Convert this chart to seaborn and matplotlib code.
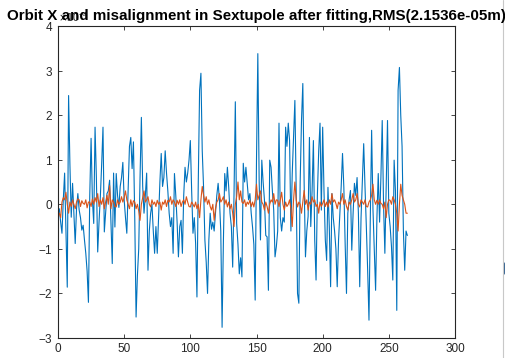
import matplotlib
matplotlib.use("Agg")
import matplotlib.pyplot as plt
import matplotlib.ticker as mticker
from matplotlib.lines import Line2D
import numpy as np
import pandas as pd
import seaborn as sns

# Orbit X (units of 1e-4 m), index 1..264
orbit_x = [
    -0.1, -0.4, -0.65, 0.1, 0.7, -0.6, -1.86, 2.44, 0.9, -0.29,
    0.47, -0.2, -0.88, -0.1, 0.24, -0.13, -0.3, -0.58, -0.47, -0.8,
    -1.1, -1.5, -2.2, 0.2, 1.48, 0.1, -0.43, 1.73, 0.6, -1.07,
    -0.4, 0.17, 0.9, 1.73, -0.62, -0.2, 0.24, 0.3, 0.54, -0.4,
    -1.33, 0.7, -0.51, 0.69, 0.2, -0.07, 0.4, 0.6, 0.94, 0.1,
    -0.3, -0.65, 0.3, 1.3, 1.5, 0.8, 1.4, -0.3, -2.53, -1.6,
    -1.0, 0.6, 1.95, 0.4, -0.2, 0.2, 0.7, -1.48, -0.6, -0.2,
    0.0, -0.6, -1.1, -0.5, -1.1, -0.3, 0.5, 1.14, 0.4, 0.6,
    1.2, 0.7, 0.3, -0.2, -0.5, -0.3, -1.1, 0.69, 0.2, -0.4,
    -1.18, -0.5, -0.36, -1.1, 0.2, 0.83, 0.5, 0.7, 0.99, 1.43,
    0.3, -0.65, -0.3, -0.88, -2.08, 0.5, 2.56, 2.94, 1.2, 0.38,
    -0.8, -1.3, -2.0, -0.8, -0.2, -0.56, -0.4, -0.6, -0.2, 0.2,
    0.47, 0.1, -0.6, -2.76, -0.8, 0.69, 0.3, 0.83, 0.38, -0.2,
    -0.5, -1.41, 0.2, 2.3, -0.43, -0.9, -1.56, -1.2, -1.63, 0.92,
    0.5, 0.83, 0.47, 0.1, 0.24, -0.2, -0.51, -0.9, -2.15, 1.0,
    3.38, 0.54, -0.8, 0.99, 0.5, 0.1, -0.7, -0.73, -1.93, 0.99,
    0.83, 0.3, -0.13, -1.18, -0.95, -0.6, 1.82, -0.3, -0.6, -0.3,
    -0.4, 1.73, 1.3, 1.82, 1.43, -0.6, 0.69, 1.5, 2.33, 0.3,
    -2.0, -2.22, 0.5, 1.88, 2.71, 0.47, -1.18, -0.6, -0.27, 1.5,
    -0.5, 0.3, 1.43, -0.8, -1.7, 0.2, 1.2, 1.82, -0.13, 1.73,
    0.3, -0.8, -1.26, 0.38, -0.5, -1.85, 0.24, -0.3, -0.6, -1.0,
    -1.85, -0.8, -0.2, 0.4, 1.14, 0.38, -0.9, -2.0, -0.2, 0.1,
    0.31, -1.03, -0.2, 0.47, 0.2, 0.6, -0.2, -1.85, -0.3, 0.5,
    1.36, 0.38, -0.5, -1.48, -2.6, -0.3, 1.66, -0.1, -1.0, -1.93,
    -0.3, 0.69, -0.4, 0.6, 1.88, 0.0, -1.1, 0.4, 1.88, -0.2,
    -0.5, -0.95, -1.7, 0.99, 0.3, -2.38, 2.56, 3.07, 2.0, 1.3,
    -0.6, -1.48, -0.6, -0.7,
]

# Misalignment in sextupoles (units of 1e-4 m)
misalign = [
    -0.2, -0.3, 0.05, 0.15, 0.1, 0.27, 0.0, -0.2, 0.05, -0.05,
    0.1, 0.0, -0.1, 0.05, 0.12, 0.1, -0.05, 0.08, 0.02, 0.0,
    0.1, -0.08, 0.05, 0.05, -0.05, 0.12, 0.0, 0.15, 0.05, 0.24,
    -0.05, 0.1, 0.0, 0.15, -0.1, 0.05, 0.2, 0.0, 0.42, -0.1,
    0.1, 0.05, -0.05, -0.06, 0.1, 0.0, 0.05, 0.17, 0.05, 0.15,
    0.3, 0.1, 0.0, -0.1, 0.1, -0.05, 0.08, 0.05, -0.1, 0.0,
    -0.15, -0.36, 0.0, 0.15, 0.3, 0.05, 0.1, 0.17, 0.0, -0.06,
    0.1, 0.0, 0.05, -0.05, 0.09, 0.0, 0.05, -0.13, 0.05, 0.0,
    0.1, -0.05, 0.09, 0.05, 0.17, 0.0, 0.1, 0.05, -0.05, 0.09,
    0.0, 0.1, -0.05, 0.05, 0.1, 0.0, 0.17, 0.05, -0.05, -0.06,
    0.05, 0.0, -0.06, 0.05, -0.1, 0.0, -0.3, 0.1, 0.4, 0.2,
    0.05, 0.17, 0.0, 0.1, -0.05, -0.13, 0.0, -0.36, -0.1, 0.05,
    0.1, 0.24, 0.05, 0.1, 0.17, 0.0, 0.1, -0.06, 0.05, -0.1,
    0.0, -0.2, -0.5, 0.0, 0.17, 0.5, 0.1, 0.3, 0.05, 0.02,
    0.1, -0.05, 0.05, 0.0, 0.09, -0.05, 0.05, -0.06, 0.1, 0.45,
    0.1, 0.2, 0.3, 0.05, 0.0, -0.13, 0.05, -0.05, -0.2, 0.0,
    0.1, 0.05, 0.24, 0.0, 0.1, 0.09, -0.05, 0.1, 0.27, 0.0,
    -0.13, 0.05, -0.05, 0.0, 0.1, -0.1, -0.5, 0.1, 0.5, 0.1,
    -0.06, 0.05, 0.0, -0.2, 0.05, 0.31, 0.0, 0.1, -0.13, 0.05,
    0.0, 0.17, 0.05, 0.1, -0.05, 0.0, -0.2, 0.05, -0.05, 0.02,
    0.1, -0.05, 0.05, -0.06, 0.1, 0.0, 0.24, 0.05, 0.1, 0.02,
    -0.1, 0.05, 0.0, 0.1, 0.24, 0.0, 0.1, -0.05, -0.13, 0.05,
    0.0, 0.1, 0.24, 0.05, 0.1, 0.24, 0.0, -0.06, 0.1, 0.05,
    0.0, 0.1, -0.05, -0.06, 0.05, 0.1, 0.2, 0.45, 0.1, 0.0,
    0.09, 0.0, 0.1, 0.02, 0.0, -0.1, 0.05, -0.3, 0.0, 0.1,
    0.09, 0.0, 0.17, 0.1, 0.0, -0.2, -0.6, 0.0, 0.45, 0.2,
    0.1, 0.0, -0.2, -0.2,
]

title_text = "Orbit X and misalignment in Sextupole after fitting,RMS(2.1536e-05m)"
x_ticks = [0, 50, 100, 150, 200, 250, 300]
y_ticks = [-3, -2, -1, 0, 1, 2, 3, 4]

n = len(orbit_x)
idx = np.arange(1, n + 1)
df = pd.DataFrame({
    "idx": np.concatenate([idx, idx]),
    "val": np.concatenate([np.array(orbit_x), np.array(misalign[:n])]) * 1e-4,
    "series": ["orbit"] * n + ["mis"] * n,
})

sns.set_style("white")
plt.rcParams["font.family"] = ["Liberation Sans", "DejaVu Sans"]

fig = plt.figure(figsize=(5.06, 3.58), dpi=100)
ax = fig.add_axes([58 / 506, 20 / 358, 397 / 506, 312 / 358])

sns.lineplot(data=df, x="idx", y="val", hue="series",
             palette={"orbit": "#0072BD", "mis": "#D95319"},
             linewidth=0.8, legend=False, ax=ax, sort=False)

ax.set_xlim(0, 300)
ax.set_ylim(-3e-4, 4e-4)
ax.set_xticks(x_ticks)
ax.set_yticks([v * 1e-4 for v in y_ticks])
ax.set_xlabel("")
ax.set_ylabel("")

fmt = mticker.ScalarFormatter(useMathText=True)
fmt.set_powerlimits((-3, 3))
ax.yaxis.set_major_formatter(fmt)
off = ax.yaxis.get_offset_text()
off.set_fontsize(7.5)
off.set_color("#777777")

for s in ax.spines.values():
    s.set_color("#262626")
    s.set_linewidth(0.8)
ax.tick_params(direction="in", length=3, width=0.6, colors="#262626",
               labelsize=8.5, top=True, right=True, left=True, bottom=True)

fig.text(256 / 506, 1 - 20 / 358, title_text, ha="center", va="baseline",
         fontsize=10.9, fontweight="bold", color="black")

# screenshot edge artifacts on the right border
fig.add_artist(Line2D([503 / 506, 503 / 506], [0, 1], transform=fig.transFigure,
                      color="#c8c8c8", linewidth=0.8))
fig.add_artist(Line2D([505 / 506, 505 / 506], [1 - 263 / 358, 1 - 273 / 358],
                      transform=fig.transFigure, color="#2a5a8a", linewidth=2))

fig.savefig("out.png", dpi=100)
